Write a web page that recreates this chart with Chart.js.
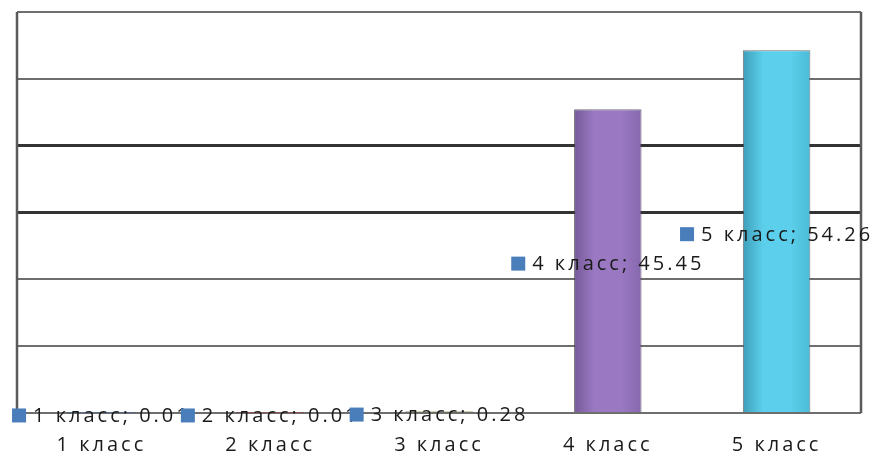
<!DOCTYPE html>
<html>
<head>
<meta charset="utf-8">
<script src="https://cdn.jsdelivr.net/npm/chart.js@4"></script>
<style>
  html, body { margin: 0; padding: 0; background: #fff; }
  #wrap { width: 875px; height: 457px; }
</style>
</head>
<body>
<div id="wrap"><canvas id="chart"></canvas></div>
<script>
/* -------------------------------------------------- */
/* Data                                                */
/* -------------------------------------------------- */

const CATEGORIES = ['1 класс', '2 класс', '3 класс', '4 класс', '5 класс'];
const VALUES     = [0.01, 0.01, 0.28, 45.45, 54.26];
const Y_MIN  = 0;
const Y_MAX  = 60;
const Y_STEP = 10;
const DARK_GRID = [30, 40];

// edge / middle / edge shades for each bar (Office-like palette)
const BAR_SHADES = [
  ['#3c6a9e', '#4f81bd', '#4676b0'],
  ['#a03f3c', '#c0504d', '#b04845'],
  ['#84a046', '#a6c35e', '#93b152'],
  ['#755a98', '#9a79c2', '#8668ad'],
  ['#3f9fba', '#5bcfeb', '#4cbcd8'],
];

const FONT = "'Open Sans', 'DejaVu Sans', sans-serif";
const SPACING = '3px';

/* -------------------------------------------------- */
/* Helpers                                             */
/* -------------------------------------------------- */

function barGradient(c) {
  const chart = c.chart;
  const xs = chart.scales.x;
  const shades = BAR_SHADES[c.dataIndex];
  if (!chart.chartArea || !xs) return shades[1];
  const cx = xs.getPixelForValue(c.dataIndex);
  const w  = (xs.width / CATEGORIES.length) * 0.4;
  const g  = chart.ctx.createLinearGradient(cx - w / 2, 0, cx + w / 2, 0);
  g.addColorStop(0, shades[0]);
  g.addColorStop(0.3, shades[1]);
  g.addColorStop(0.7, shades[1]);
  g.addColorStop(1, shades[2]);
  return g;
}

const isDark = c => c.tick && DARK_GRID.includes(c.tick.value);

const spacingPlugin = {
  id: 'spacing',
  beforeLayout(chart) { chart.ctx.letterSpacing = SPACING; },
  beforeDraw(chart)   { chart.ctx.letterSpacing = SPACING; },
};

const framePlugin = {
  id: 'frame',
  afterDatasetsDraw(chart) {
    const { ctx, chartArea: a } = chart;
    ctx.save();
    ctx.strokeStyle = '#5a5a5a';
    ctx.lineWidth = 2.5;
    ctx.beginPath();
    ctx.moveTo(a.left, a.top); ctx.lineTo(a.left, a.bottom);
    ctx.moveTo(a.right, a.top); ctx.lineTo(a.right, a.bottom);
    ctx.stroke();
    ctx.restore();
  },
};

// "■ N класс; value" labels centred on each bar
const valueLabelPlugin = {
  id: 'valueLabels',
  afterDatasetsDraw(chart) {
    const ctx = chart.ctx;
    const meta = chart.getDatasetMeta(0);
    ctx.save();
    ctx.letterSpacing = SPACING;
    ctx.font = '20px ' + FONT;
    ctx.textBaseline = 'middle';
    ctx.textAlign = 'left';
    meta.data.forEach((bar, i) => {
      const text = CATEGORIES[i] + '; ' + VALUES[i];
      const tw = ctx.measureText(text).width;
      const box = 14, gap = 7;
      const total = box + gap + tw;
      const x0 = bar.x - total / 2;
      const y = (bar.y + bar.base) / 2 + 3;
      ctx.fillStyle = '#4a7ebb';
      ctx.fillRect(x0, y - box / 2, box, box);
      ctx.fillStyle = '#1a1a1a';
      ctx.fillText(text, x0 + box + gap, y + 1);
    });
    ctx.restore();
  },
};

/* -------------------------------------------------- */
/* Chart                                               */
/* -------------------------------------------------- */

Chart.defaults.font.family = FONT;
Chart.defaults.font.size = 20;
Chart.defaults.color = '#1a1a1a';

new Chart(document.getElementById('chart').getContext('2d'), {
  type: 'bar',
  data: {
    labels: CATEGORIES,
    datasets: [{
      data: VALUES,
      backgroundColor: barGradient,
      borderColor: 'rgba(70,70,70,0.75)',
      borderWidth: 1,
      categoryPercentage: 1,
      barPercentage: 0.4,
    }],
  },
  options: {
    responsive: true,
    maintainAspectRatio: false,
    animation: false,
    layout: { padding: { left: 17, right: 14, top: 12, bottom: 0 } },
    plugins: {
      legend: { display: false },
      tooltip: { enabled: false },
    },
    scales: {
      y: {
        min: Y_MIN,
        max: Y_MAX,
        ticks: { display: false, stepSize: Y_STEP },
        border: { display: false },
        grid: {
          drawTicks: false,
          color: c => isDark(c) ? '#333333' : '#6e6e6e',
          lineWidth: c => isDark(c) ? 3 : 2,
        },
      },
      x: {
        border: { display: false },
        grid: { display: false },
        afterFit: s => { s.height = 44; },
        ticks: {
          autoSkip: false,
          maxRotation: 0,
          padding: 12,
          color: '#1a1a1a',
          font: { size: 20 },
        },
      },
    },
  },
  plugins: [spacingPlugin, framePlugin, valueLabelPlugin],
});
</script>
</body>
</html>
